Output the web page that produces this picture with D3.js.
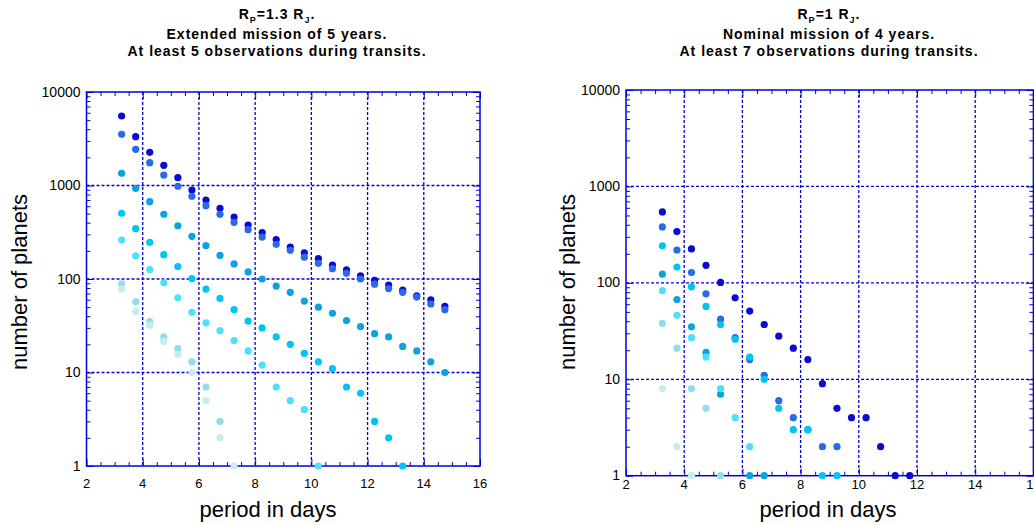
<!DOCTYPE html>
<html><head><meta charset="utf-8">
<script src="https://cdn.jsdelivr.net/npm/d3@7/dist/d3.min.js"></script>
<style>
body{margin:0;background:#fff;overflow:hidden}
text{font-family:"Liberation Sans",Arial,Helvetica,sans-serif;fill:#000}
</style>
</head><body>
<svg id="chart" width="1034" height="525"></svg>
<script>
// ---------------- DATA ----------------
const periods = [3.25,3.75,4.25,4.75,5.25,5.75,6.25,6.75,7.25,7.75,8.25,8.75,9.25,9.75,10.25,10.75,11.25,11.75,12.25,12.75,13.25,13.75,14.25,14.75];
const xTickValues = [2,4,6,8,10,12,14,16];
const xTickLabels = ["2","4","6","8","10","12","14","16"];
const yTickValues = [1,10,100,1000,10000];
const yTickLabels = ["1","10","100","1000","10000"];
const seriesColors = ["#0a0ad2","#2a6ae6","#0aa2e0","#00c4f4","#4ce0ff","#92dee8","#c6ecec"];

// left panel: Rp = 1.3 RJ, extended mission 5 yr, >=5 observations
const leftS1 = [5540,3330,2265,1645,1212,895,700,570,460,378,313,264,220,190,165,141,125,108,97,86,76,66,60,51];
const leftS2 = [3525,2440,1753,1294,980,766,608,492,404,337,281,235,203,171,147,129,115,100,88,79,72,64,54,47];
const leftS3 = [1350,933,671,492,371,286,227,179,145,119,100,84,72,58,50,43,36,31,26,24,19,17,13,10];
const leftS4 = [505,345,247,182,136,101,78,62,47,35.5,30,24,20,16,13,11,7,6,3,2,1,null,null,null];
const leftS5 = [261,177,126,91,63,44,34,28,22,17,12,7,5,4,1,null,null,null,null,null,null,null,null,null];
const leftS6 = [89,57,35,24,18,13,7,3,null,null,null,null,null,null,null,null,null,null,null,null,null,null,null,null];
const leftS7 = [78,45,32,21.5,15.6,10,5,2,1,null,null,null,null,null,null,null,null,null,null,null,null,null,null,null];

// right panel: Rp = 1 RJ, nominal mission 4 yr, >=7 observations
const rightS1 = [544,340,225,152,101,70,51,37,28,21,16,9,5,4,4,2,1,1];
const rightS2 = [380,219,128,77,42,27,16,11,6,4,3,2,2];
const rightS3 = [123,67,35,19,7,null,1,1];
const rightS4 = [242,146,91,57,37,26,17,10,5,3,3,1,1];
const rightS5 = [83,46,27,17,8,4,2];
const rightS6 = [38,21,8,5,1];
const rightS7 = [8,2,1];

const leftTitle = [["R","P","=1.3 R","J","."],["Extended mission of 5 years."],["At least 5 observations during transits."]];
const rightTitle = [["R","P","=1 R","J","."],["Nominal mission of 4 years."],["At least 7 observations during transits."]];
const xAxisTitle = "period in days";
const yAxisTitle = "number of planets";

// ---------------- LAYOUT ----------------
const panels = [
  {x0:86.5, x1:480, yTop:92, yBot:466, series:[leftS1,leftS2,leftS3,leftS4,leftS5,leftS6,leftS7],
   title:leftTitle, titleX:277, titleY:[19,39,56], xLabX:268, xLabY:517, yLabX:27, yLabY:282, xTickY:487.5},
  {x0:626, x1:1033.4, yTop:90, yBot:475.7, series:[rightS1,rightS2,rightS3,rightS4,rightS5,rightS6,rightS7],
   title:rightTitle, titleX:829, titleY:[19,39,56], xLabX:828, xLabY:517, yLabX:575, yLabY:282, xTickY:489}
];

const svg = d3.select("#chart");
const BLUE = "#0000dd";

panels.forEach(p => {
  const x = d3.scaleLinear().domain([2,16]).range([p.x0,p.x1]);
  const y = d3.scaleLog().domain([1,10000]).range([p.yBot,p.yTop]);
  const g = svg.append("g");

  // grid
  g.selectAll(".vg").data(xTickValues.slice(1,-1)).enter().append("line")
    .attr("x1",d=>x(d)).attr("x2",d=>x(d)).attr("y1",p.yTop).attr("y2",p.yBot)
    .attr("stroke",BLUE).attr("stroke-width",1.3).attr("stroke-dasharray","3,2");
  g.selectAll(".hg").data(yTickValues.slice(1,-1)).enter().append("line")
    .attr("y1",d=>y(d)).attr("y2",d=>y(d)).attr("x1",p.x0).attr("x2",p.x1)
    .attr("stroke",BLUE).attr("stroke-width",1.3).attr("stroke-dasharray","3,2");

  // minor ticks
  const xMinor = d3.range(2,16.01,0.5).filter(v=>!xTickValues.includes(v));
  const yMinor = [];
  [1,10,100,1000].forEach(dec=>{for(let k=2;k<=9;k++) yMinor.push(k*dec);});

  const mk = (axisFn, scale, vals, size, tr) => {
    const a = g.append("g").attr("transform",tr)
      .call(axisFn(scale).tickValues(vals).tickSize(size).tickFormat(""));
    a.select(".domain").remove();
    a.selectAll("line").attr("stroke",BLUE).attr("stroke-width",1);
    return a;
  };
  mk(d3.axisBottom, x, xMinor, -4, `translate(0,${p.yBot})`);
  mk(d3.axisBottom, x, xTickValues, -7, `translate(0,${p.yBot})`);
  mk(d3.axisTop, x, xMinor, -4, `translate(0,${p.yTop})`);
  mk(d3.axisTop, x, xTickValues, -7, `translate(0,${p.yTop})`);
  mk(d3.axisLeft, y, yMinor, -4, `translate(${p.x0},0)`);
  mk(d3.axisLeft, y, yTickValues, -7, `translate(${p.x0},0)`);
  mk(d3.axisRight, y, yMinor, -4, `translate(${p.x1},0)`);
  mk(d3.axisRight, y, yTickValues, -7, `translate(${p.x1},0)`);

  // frame
  g.append("rect").attr("x",p.x0).attr("y",p.yTop).attr("width",p.x1-p.x0).attr("height",p.yBot-p.yTop)
    .attr("fill","none").attr("stroke",BLUE).attr("stroke-width",1.5);

  // tick labels
  g.selectAll(".xl").data(xTickValues).enter().append("text")
    .attr("x",d=>x(d)).attr("y",p.xTickY).attr("text-anchor","middle")
    .attr("font-size",13).text((d,i)=>xTickLabels[i]);
  g.selectAll(".yl").data(yTickValues).enter().append("text")
    .attr("x",p.x0-6).attr("y",d=>y(d)+4.5).attr("text-anchor","end")
    .attr("font-size",14).text((d,i)=>yTickLabels[i]);

  // points (lighter series drawn on top)
  p.series.forEach((s,si)=>{
    const pts = s.map((v,i)=>({p:periods[i],v})).filter(d=>d.v!=null);
    g.selectAll(null).data(pts).enter().append("circle")
      .attr("cx",d=>x(d.p)).attr("cy",d=>y(d.v)).attr("r",3.6)
      .attr("fill",seriesColors[si]);
  });

  // titles
  p.title.forEach((line,li)=>{
    const t = g.append("text").attr("x",p.titleX).attr("y",p.titleY[li])
      .attr("text-anchor","middle").attr("font-size",14).attr("font-weight","bold")
      .attr("letter-spacing","1px");
    if(line.length===1){ t.text(line[0]); }
    else {
      t.append("tspan").text(line[0]);
      t.append("tspan").attr("font-size",9).attr("dy",4).text(line[1]);
      t.append("tspan").attr("dy",-4).text(line[2]);
      t.append("tspan").attr("font-size",9).attr("dy",4).text(line[3]);
      t.append("tspan").attr("dy",-4).text(line[4]);
    }
  });

  // axis titles
  g.append("text").attr("x",p.xLabX).attr("y",p.xLabY).attr("text-anchor","middle")
    .attr("font-size",22).text(xAxisTitle);
  g.append("text").attr("transform",`translate(${p.yLabX},${p.yLabY}) rotate(-90)`)
    .attr("text-anchor","middle").attr("font-size",22).text(yAxisTitle);
});
</script>
</body></html>
